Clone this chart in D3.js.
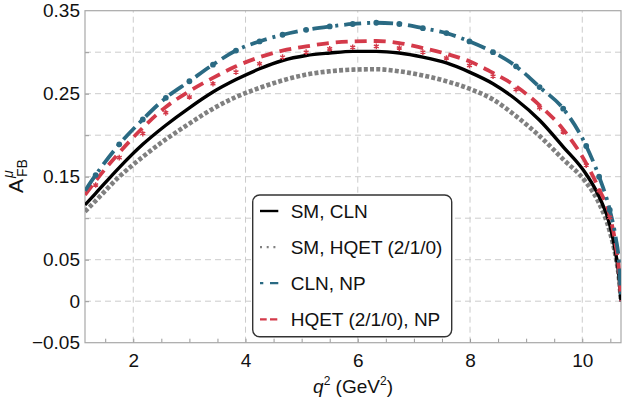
<!DOCTYPE html>
<html>
<head>
<meta charset="utf-8">
<script src="https://cdn.jsdelivr.net/npm/d3@7"></script>
<style>
  body { margin: 0; background: #fff; }
  text { font-family: "Liberation Sans", Arial, sans-serif; fill: #111; }
</style>
</head>
<body>
<div id="chart"></div>
<script>
const q2 = [1.14, 1.33, 1.75, 2.17, 2.58, 3.0, 3.42, 3.83, 4.25, 4.66, 5.08, 5.5, 5.91, 6.33,
            6.74, 7.16, 7.58, 7.99, 8.41, 8.82, 9.24, 9.66, 10.07, 10.3, 10.49, 10.6, 10.65, 10.69];

// A_FB^mu for each curve
const smCLN  = [0.116, 0.130, 0.161, 0.189, 0.212, 0.233, 0.252, 0.267, 0.280, 0.290, 0.296, 0.299, 0.301, 0.301,
                0.299, 0.294, 0.287, 0.276, 0.262, 0.243, 0.218, 0.186, 0.153, 0.126, 0.092, 0.056, 0.032, 0.0];
const smHQET = [0.108, 0.121, 0.150, 0.174, 0.195, 0.214, 0.232, 0.246, 0.257, 0.266, 0.273, 0.277, 0.279, 0.2795,
                0.277, 0.272, 0.265, 0.256, 0.243, 0.223, 0.199, 0.171, 0.143, 0.118, 0.084, 0.052, 0.030, 0.0];
const npCLN  = [0.133, 0.152, 0.189, 0.219, 0.245, 0.265, 0.285, 0.302, 0.313, 0.321, 0.327, 0.331, 0.334, 0.3355,
                0.334, 0.329, 0.323, 0.313, 0.300, 0.283, 0.258, 0.232, 0.187, 0.150, 0.110, 0.075, 0.050, 0.0];
const npHQET = [0.128, 0.145, 0.179, 0.209, 0.234, 0.253, 0.269, 0.283, 0.294, 0.302, 0.307, 0.311, 0.313, 0.3135,
                0.311, 0.305, 0.298, 0.289, 0.275, 0.259, 0.236, 0.207, 0.166, 0.135, 0.103, 0.066, 0.040, 0.0];

// point markers along the NP curves
const markQ2 = [1.33, 1.75, 2.17, 2.58, 3.0, 3.42, 3.83, 4.25, 4.66, 5.08, 5.5, 5.91, 6.33,
                6.74, 7.16, 7.58, 7.99, 8.41, 8.82, 9.24, 9.66, 10.07, 10.3, 10.49];
const npCLNpts  = [0.152, 0.189, 0.219, 0.245, 0.265, 0.285, 0.302, 0.313, 0.321, 0.327, 0.331, 0.334, 0.3355,
                   0.334, 0.329, 0.323, 0.313, 0.300, 0.283, 0.258, 0.232, 0.187, 0.150, 0.110];
const npHQETpts = [0.140, 0.173, 0.202, 0.227, 0.246, 0.262, 0.276, 0.286, 0.294, 0.300, 0.304, 0.306, 0.307,
                   0.305, 0.300, 0.293, 0.284, 0.271, 0.255, 0.233, 0.204, 0.164, 0.133, 0.101];

const xTicks = [2, 4, 6, 8, 10];
const xMinor = [1.5, 2, 2.5, 3, 3.5, 4, 4.5, 5, 5.5, 6, 6.5, 7, 7.5, 8, 8.5, 9, 9.5, 10, 10.5];
const yTicks = [0.35, 0.25, 0.15, 0.05, 0, -0.05];
const yGrid  = [0, 0.05, 0.10, 0.15, 0.20, 0.25, 0.30];

const legendNames = ["SM, CLN", "SM, HQET (2/1/0)", "CLN, NP", "HQET (2/1/0), NP"];

const W = 623, H = 404;
const BLUE = "#2a6a83", RED = "#d43a4a", GRAY = "#808080";

const x = d3.scaleLinear().domain([1.14, 10.69]).range([85, 621]);
const y = d3.scaleLinear().domain([-0.05, 0.35]).range([342.7, 10.7]);

const svg = d3.select("#chart").append("svg")
  .attr("width", W)
  .attr("height", H);

svg.append("clipPath").attr("id", "plot")
  .append("rect")
  .attr("x", x.range()[0]).attr("y", y.range()[1])
  .attr("width", x.range()[1] - x.range()[0])
  .attr("height", y.range()[0] - y.range()[1]);

// dashed grid
svg.append("g").selectAll("line").data(xTicks).join("line")
  .attr("x1", d => x(d)).attr("x2", d => x(d))
  .attr("y1", y.range()[0]).attr("y2", y.range()[1])
  .attr("stroke", "#cccccc").attr("stroke-dasharray", "6,4");
svg.append("g").selectAll("line").data(yGrid).join("line")
  .attr("x1", x.range()[0]).attr("x2", x.range()[1])
  .attr("y1", d => y(d)).attr("y2", d => y(d))
  .attr("stroke", "#cccccc").attr("stroke-dasharray", "6,4");

// small inward ticks
svg.append("g").attr("transform", `translate(0,${y.range()[0]})`)
  .call(d3.axisBottom(x).tickValues(xMinor).tickSize(-4).tickFormat(""))
  .call(g => g.select(".domain").remove())
  .selectAll("line").attr("stroke", "#999");
svg.append("g").attr("transform", `translate(${x.range()[0]},0)`)
  .call(d3.axisLeft(y).tickValues(yGrid).tickSize(-4).tickFormat(""))
  .call(g => g.select(".domain").remove())
  .selectAll("line").attr("stroke", "#999");

// tick labels
svg.append("g").attr("transform", `translate(0,${y.range()[0]})`)
  .call(d3.axisBottom(x).tickValues(xTicks).tickSize(0).tickPadding(11).tickFormat(d3.format("d")))
  .call(g => g.select(".domain").remove())
  .selectAll("text").attr("font-size", 19).attr("font-family", "Liberation Sans, Arial, sans-serif").attr("fill", "#111");
svg.append("g").attr("transform", `translate(${x.range()[0]},0)`)
  .call(d3.axisLeft(y).tickValues(yTicks).tickSize(0).tickPadding(5)
    .tickFormat(d => d === 0 ? "0" : d3.format(".2f")(d)))
  .call(g => g.select(".domain").remove())
  .selectAll("text").attr("font-size", 19).attr("font-family", "Liberation Sans, Arial, sans-serif").attr("fill", "#111");

// frame
svg.append("rect")
  .attr("x", x.range()[0]).attr("y", y.range()[1])
  .attr("width", x.range()[1] - x.range()[0])
  .attr("height", y.range()[0] - y.range()[1])
  .attr("fill", "none").attr("stroke", "#a8a8a8").attr("stroke-width", 1.2);

// curves
const line = d3.line()
  .x(d => x(d[0]))
  .y(d => y(d[1]))
  .curve(d3.curveMonotoneX);

const series = [
  { vals: smHQET, color: GRAY, width: 4.6, dash: "4,2.2" },
  { vals: smCLN,  color: "#000", width: 3.4, dash: null },
  { vals: npHQET, color: RED,  width: 3.8, dash: "12,7" },
  { vals: npCLN,  color: BLUE, width: 3.8, dash: "17,6,3,6" }
];

const curves = svg.append("g").attr("clip-path", "url(#plot)");

series.forEach(s => {
  curves.append("path")
    .datum(q2.map((q, i) => [q, s.vals[i]]))
    .attr("d", line)
    .attr("fill", "none")
    .attr("stroke", s.color)
    .attr("stroke-width", s.width)
    .attr("stroke-dasharray", s.dash);
});

// red asterisk points
curves.append("g").selectAll("path")
  .data(markQ2.map((q, i) => [q, npHQETpts[i]]))
  .join("path")
  .attr("transform", d => `translate(${x(d[0])},${y(d[1])})`)
  .attr("d", d3.symbol(d3.symbolAsterisk, 22))
  .attr("fill", "none")
  .attr("stroke", RED)
  .attr("stroke-width", 1.4);

// blue dot points
curves.append("g").selectAll("circle")
  .data(markQ2.map((q, i) => [q, npCLNpts[i]]))
  .join("circle")
  .attr("cx", d => x(d[0]))
  .attr("cy", d => y(d[1]))
  .attr("r", 2.9)
  .attr("fill", BLUE);

// axis titles
const xt = svg.append("text")
  .attr("x", 353).attr("y", 393)
  .attr("text-anchor", "middle")
  .attr("font-size", 19);
xt.append("tspan").attr("font-style", "italic").text("q");
xt.append("tspan").attr("font-size", 12).attr("dy", -8).text("2");
xt.append("tspan").attr("dy", 8).text(" (GeV");
xt.append("tspan").attr("font-size", 12).attr("dy", -8).text("2");
xt.append("tspan").attr("dy", 8).text(")");

const yt = svg.append("g").attr("transform", "translate(23,176) rotate(-90)");
yt.append("text").attr("x", -17).attr("y", 0).attr("font-size", 21).text("A");
yt.append("text").attr("x", -2).attr("y", -10).attr("font-size", 14).attr("font-style", "italic").text("μ");
yt.append("text").attr("x", -1).attr("y", 4).attr("font-size", 14).text("FB");

// legend
const legend = svg.append("g").attr("transform", "translate(252.7,195)");
legend.append("rect")
  .attr("width", 199).attr("height", 141.7)
  .attr("rx", 7)
  .attr("fill", "#fff")
  .attr("stroke", "#333")
  .attr("stroke-width", 1.4);

const legendStyles = [
  { color: "#000", width: 2.4, dash: null },
  { color: GRAY,   width: 2.2, dash: "2,4.7" },
  { color: BLUE,   width: 2.2, dash: "3.3,6.7,8.3" },
  { color: RED,    width: 2.2, dash: "6.7,3.3,7.3" }
];

const rows = legend.selectAll("g.row").data(legendNames).join("g")
  .attr("class", "row")
  .attr("transform", (d, i) => `translate(0,${16 + i * 36.1})`);
rows.append("line")
  .attr("x1", 7.3).attr("x2", 25.6)
  .attr("stroke", (d, i) => legendStyles[i].color)
  .attr("stroke-width", (d, i) => legendStyles[i].width)
  .attr("stroke-dasharray", (d, i) => legendStyles[i].dash);
rows.append("text")
  .attr("x", 38)
  .attr("dy", "0.35em")
  .attr("font-size", 19)
  .text(d => d);
</script>
</body>
</html>
